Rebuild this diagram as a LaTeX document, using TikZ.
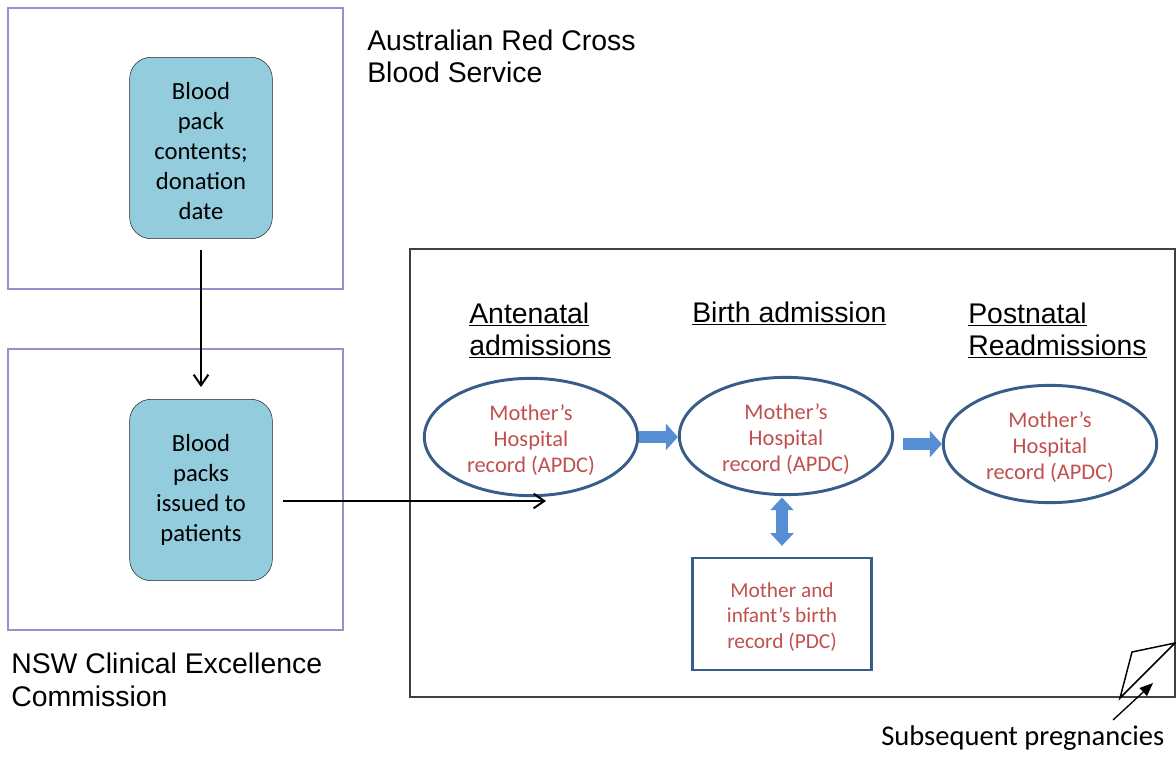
\documentclass[tikz,border=0pt]{standalone}
\usepackage{fontspec}
\setmainfont{Liberation Sans}
\newfontfamily\carlito{Carlito}
\usetikzlibrary{arrows.meta, shapes.geometric, positioning}

\definecolor{regionpurple}{RGB}{160,140,200}
\definecolor{packblue}{RGB}{147,205,221}
\definecolor{recordblue}{RGB}{56,93,138}
\definecolor{recordred}{RGB}{192,80,77}
\definecolor{flowblue}{RGB}{85,142,213}

\newcommand{\toplift}[1]{\rule{0pt}{#1}}

\tikzset{
  region/.style={draw=regionpurple, line width=0.9pt},
  packbox/.style={draw=black!85, fill=packblue, rounded corners=16pt,
                  minimum width=107pt, minimum height=136pt, inner sep=0pt,
                  align=center, font=\carlito\fontsize{18.5}{22.5}\selectfont},
  record/.style={ellipse, draw=recordblue, line width=2.2pt,
                 minimum width=160pt, minimum height=88pt, inner sep=0pt,
                 align=center, text=recordred,
                 font=\carlito\fontsize{16.8}{19.5}\selectfont},
  pdcbox/.style={rectangle, draw=recordblue, line width=2.2pt,
                 minimum width=134pt, minimum height=84pt, inner sep=0pt,
                 align=center, text=recordred,
                 font=\carlito\fontsize{16}{19}\selectfont},
  orglabel/.style={anchor=base west, inner sep=0pt, align=left,
                   font=\fontsize{21.3}{24.3}\selectfont},
  heading/.style={orglabel, font=\fontsize{21.3}{24}\selectfont},
  dataflow/.style={draw=black, line width=1.5pt,
                   -{Straight Barb[length=8pt, width=11pt]}},
  blockflow/.style={draw=flowblue, line width=8.5pt,
                    -{Triangle[length=9pt, width=19.5pt]}},
}

\begin{document}
\begin{tikzpicture}[x=0.75pt, y=-0.75pt]
  \useasboundingbox (0,0) rectangle (1176,756);

  % organisations
  \draw[region] (8,8) rectangle (343,289);
  \draw[region] (8,349) rectangle (343,630);
  \node[orglabel] (redcross) at (367,83) {Australian Red Cross\\Blood Service};
  \node[orglabel] (cec) at (11,706) {NSW Clinical Excellence\\Commission};

  \node[packbox] (packcontents) at (201,148) {\toplift{17.5pt}Blood\\pack\\contents;\\donation\\date};
  \node[packbox] (packsissued) at (201,490) {Blood\\packs\\issued to\\patients};

  % hospital episodes
  \draw[black!75, line width=0.9pt] (410,249) rectangle (1175,697);
  \node[heading] (antehead) at (469,355) {\underline{Antenatal}\\\underline{admissions}};
  \node[heading] (birthhead) at (692,322) {\underline{Birth admission}};
  \node[heading] (posthead) at (968,355) {\underline{Postnatal}\\\underline{Readmissions}};

  \node[record] (antenatal) at (531,437) {\toplift{16.5pt}Mother’s\\Hospital\\record (APDC)};
  \node[record] (birth) at (786,436) {\toplift{16.5pt}Mother’s\\Hospital\\record (APDC)};
  \node[record] (postnatal) at (1050,444) {\toplift{16.5pt}Mother’s\\Hospital\\record (APDC)};
  \node[pdcbox] (pdc) at (782,614) {\toplift{15.5pt}Mother and\\infant’s birth\\record (PDC)};

  \coordinate (antenatalin) at (546,501);

  \draw[dataflow, shorten <=8pt, shorten >=9pt] (packcontents.south) -- (packsissued.north);
  \draw[dataflow, shorten <=8pt] ([yshift=-8.25pt]packsissued.east) -- (antenatalin);

  \draw[blockflow] (antenatal.east) -- (antenatal.east -| birth.west);
  \draw[blockflow, shorten <=6.5pt] (birth.east |- postnatal.west) -- (postnatal.west);
  \draw[blockflow, {Triangle[length=9.5pt, width=17pt]}-{Triangle[length=9.5pt, width=17pt]},
        shorten <=1pt, shorten >=8pt] (birth.south -| pdc.north) -- (pdc.north);

  % subsequent pregnancies
  \coordinate (foldbase) at (1120,698);
  \coordinate (foldtip) at (1132,652);
  \coordinate (foldedge) at (1175,643);
  \draw[line width=1.1pt, line join=miter] (foldbase) -- (foldtip) -- (foldedge) -- cycle;
  \node[orglabel, font=\carlito\fontsize{21.4}{24}\selectfont] (nextpreg) at (881,745) {Subsequent pregnancies};
  \coordinate (nexttail) at (1113,720);
  \coordinate (nexthead) at (1153,683);
  \draw[line width=1pt, -{Triangle[length=10pt, width=8pt]}] (nexttail) -- (nexthead);
\end{tikzpicture}
\end{document}
